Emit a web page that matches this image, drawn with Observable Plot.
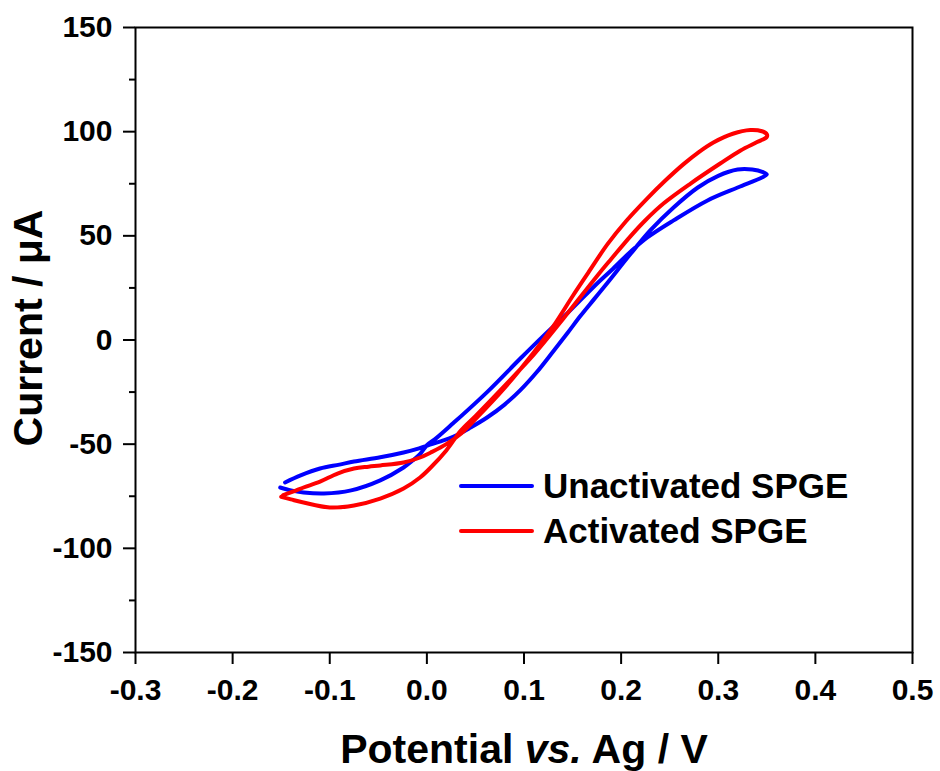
<!DOCTYPE html>
<html>
<head>
<meta charset="utf-8">
<script src="https://cdn.jsdelivr.net/npm/d3@7"></script>
<script src="https://cdn.jsdelivr.net/npm/@observablehq/plot@0.6"></script>
<style>
  html, body { margin: 0; padding: 0; background: #fff; }
  #wrap { position: relative; width: 940px; height: 771px; }
  #legend { position: absolute; left: 0; top: 0; }
</style>
</head>
<body>
<div id="wrap"></div>
<script>
// ---- Data ----
const seriesNames = ["Unactivated SPGE", "Activated SPGE"];
const seriesColors = ["#0000ff", "#ff0000"];

// Unactivated SPGE (blue) loop, in drawing order
const blueX = [-0.146, -0.13, -0.11, -0.09, -0.075, -0.048, -0.024, -0.008, 0.005,
  0.015, 0.027, 0.045, 0.062, 0.08, 0.096, 0.113, 0.13, 0.145, 0.158, 0.172, 0.186, 0.21, 0.23, 0.254, 0.279, 0.30, 0.32, 0.335, 0.346, 0.35,
  0.345, 0.32, 0.289, 0.254, 0.227, 0.21, 0.19,
  0.175, 0.145, 0.12, 0.096, 0.062, 0.027, 0.01, 0.0,
  -0.0066, -0.015, -0.024, -0.048, -0.078, -0.106, -0.127, -0.14, -0.151];
const blueY = [-68.4, -65.0, -61.7, -59.8, -58.3, -56.3, -54.0, -52.0, -50.0,
  -48.5, -46.5, -42.0, -37.2, -31.0, -24.2, -15.5, -5.5, 3.5, 11.5, 19.5, 27.5, 41.5, 52.6, 63.6, 73.2, 78.8, 81.8, 81.8, 80.6, 79.5,
  78.0, 73.2, 67.0, 57.4, 49.2, 42.5, 33.5,
  27.0, 13.0, 2.0, -9.0, -25.0, -40.0, -47.0, -50.5,
  -54.5, -58.0, -61.2, -67.4, -72.2, -73.7, -73.2, -72.2, -70.8];

// Activated SPGE (red) loop, in drawing order
const redX = [-0.148, -0.135, -0.127, -0.11, -0.092, -0.075, -0.06, -0.048, -0.024, -0.007, 0.004, 0.02,
  0.035, 0.05, 0.08, 0.11, 0.13, 0.15, 0.165, 0.186, 0.205, 0.227, 0.245, 0.264, 0.28, 0.295, 0.315, 0.333, 0.345, 0.35,
  0.35, 0.34, 0.323, 0.302, 0.2715, 0.2436, 0.225, 0.21, 0.19, 0.1757, 0.14, 0.11, 0.08, 0.05, 0.035,
  0.02, 0.004, -0.007, -0.024, -0.048, -0.075, -0.1, -0.127, -0.14, -0.15];
const redY = [-74.5, -72.3, -70.8, -68.0, -64.1, -61.7, -60.8, -60.2, -58.8, -56.4, -54.0, -50.0,
  -45.0, -38.0, -23.0, -6.0, 6.5, 21.0, 31.5, 46.0, 57.0, 68.0, 76.3, 84.3, 90.2, 94.8, 99.0, 100.8, 100.2, 98.8,
  97.5, 95.0, 91.0, 84.7, 75.1, 65.5, 57.5, 50.0, 39.0, 31.0, 10.0, -7.0, -22.0, -36.5, -43.5,
  -53.0, -61.2, -66.0, -71.3, -76.1, -79.4, -80.4, -78.0, -76.5, -75.3];

// Axes
const xTicks = [-0.3, -0.2, -0.1, 0.0, 0.1, 0.2, 0.3, 0.4, 0.5];
const yTicks = [-150, -100, -50, 0, 50, 100, 150];
const yMinorTicks = [-125, -75, -25, 25, 75, 125];
const xTitle = "Potential vs. Ag / V";
const yTitle = "Current / \u03BCA";

// ---- Build ----
const blue = blueX.map((x, i) => ({x, y: blueY[i]}));
const red = redX.map((x, i) => ({x, y: redY[i]}));

const FONT = "'Liberation Sans', Arial, Helvetica, sans-serif";

const chart = Plot.plot({
  width: 940,
  height: 771,
  marginLeft: 135,
  marginRight: 28,
  marginTop: 27,
  marginBottom: 119,
  style: {fontFamily: FONT, fontSize: "30px", fontWeight: "bold", color: "black", background: "white", overflow: "visible"},
  x: {domain: [-0.3, 0.5]},
  y: {domain: [-150, 150]},
  marks: [
    Plot.axisY(yMinorTicks, {tickSize: 6, tickFormat: () => "", strokeWidth: 2, label: null}),
    Plot.axisY(yTicks, {tickSize: 12, tickPadding: 11, tickFormat: d => String(d), strokeWidth: 2, label: null}),
    Plot.axisX(xTicks, {tickSize: 12, tickPadding: 14, tickFormat: d => d.toFixed(1), strokeWidth: 2, label: null}),
    Plot.line(blue, {x: "x", y: "y", stroke: seriesColors[0], strokeWidth: 4, curve: "catmull-rom", strokeLinecap: "round", strokeLinejoin: "round"}),
    Plot.line(red, {x: "x", y: "y", stroke: seriesColors[1], strokeWidth: 4, curve: "catmull-rom", strokeLinecap: "round", strokeLinejoin: "round"}),
    Plot.frame({stroke: "black", strokeWidth: 2}),
    Plot.text([xTitle], {frameAnchor: "bottom", dy: 110, lineAnchor: "bottom", fontSize: 41, fontWeight: "bold", fill: "black"}),
    Plot.text([yTitle], {frameAnchor: "left", textAnchor: "middle", dx: -94, dy: -12, rotate: -90, lineAnchor: "bottom", fontSize: 41, fontWeight: "bold", fill: "black"})
  ]
});

document.getElementById("wrap").appendChild(chart);

// italic "vs." in the x title
d3.select(chart).selectAll("text").filter(function() { return this.textContent === xTitle; })
  .each(function() {
    const t = d3.select(this);
    t.text(null);
    t.append("tspan").text("Potential ");
    t.append("tspan").attr("font-style", "italic").text("vs.");
    t.append("tspan").text(" Ag / V");
  });

// Legend (overlay)
const leg = d3.select("#wrap").append("svg")
  .attr("id", "legend").attr("width", 940).attr("height", 771)
  .style("font-family", FONT).style("font-weight", "bold").style("font-size", "35px");
const rows = [{y: 486, tb: 498}, {y: 531, tb: 543}];
seriesNames.forEach((name, i) => {
  leg.append("line").attr("x1", 461).attr("x2", 532).attr("y1", rows[i].y).attr("y2", rows[i].y)
    .attr("stroke", seriesColors[i]).attr("stroke-width", 4).attr("stroke-linecap", "round");
  leg.append("text").attr("x", 543).attr("y", rows[i].tb).attr("fill", "black").text(name);
});
</script>
</body>
</html>
